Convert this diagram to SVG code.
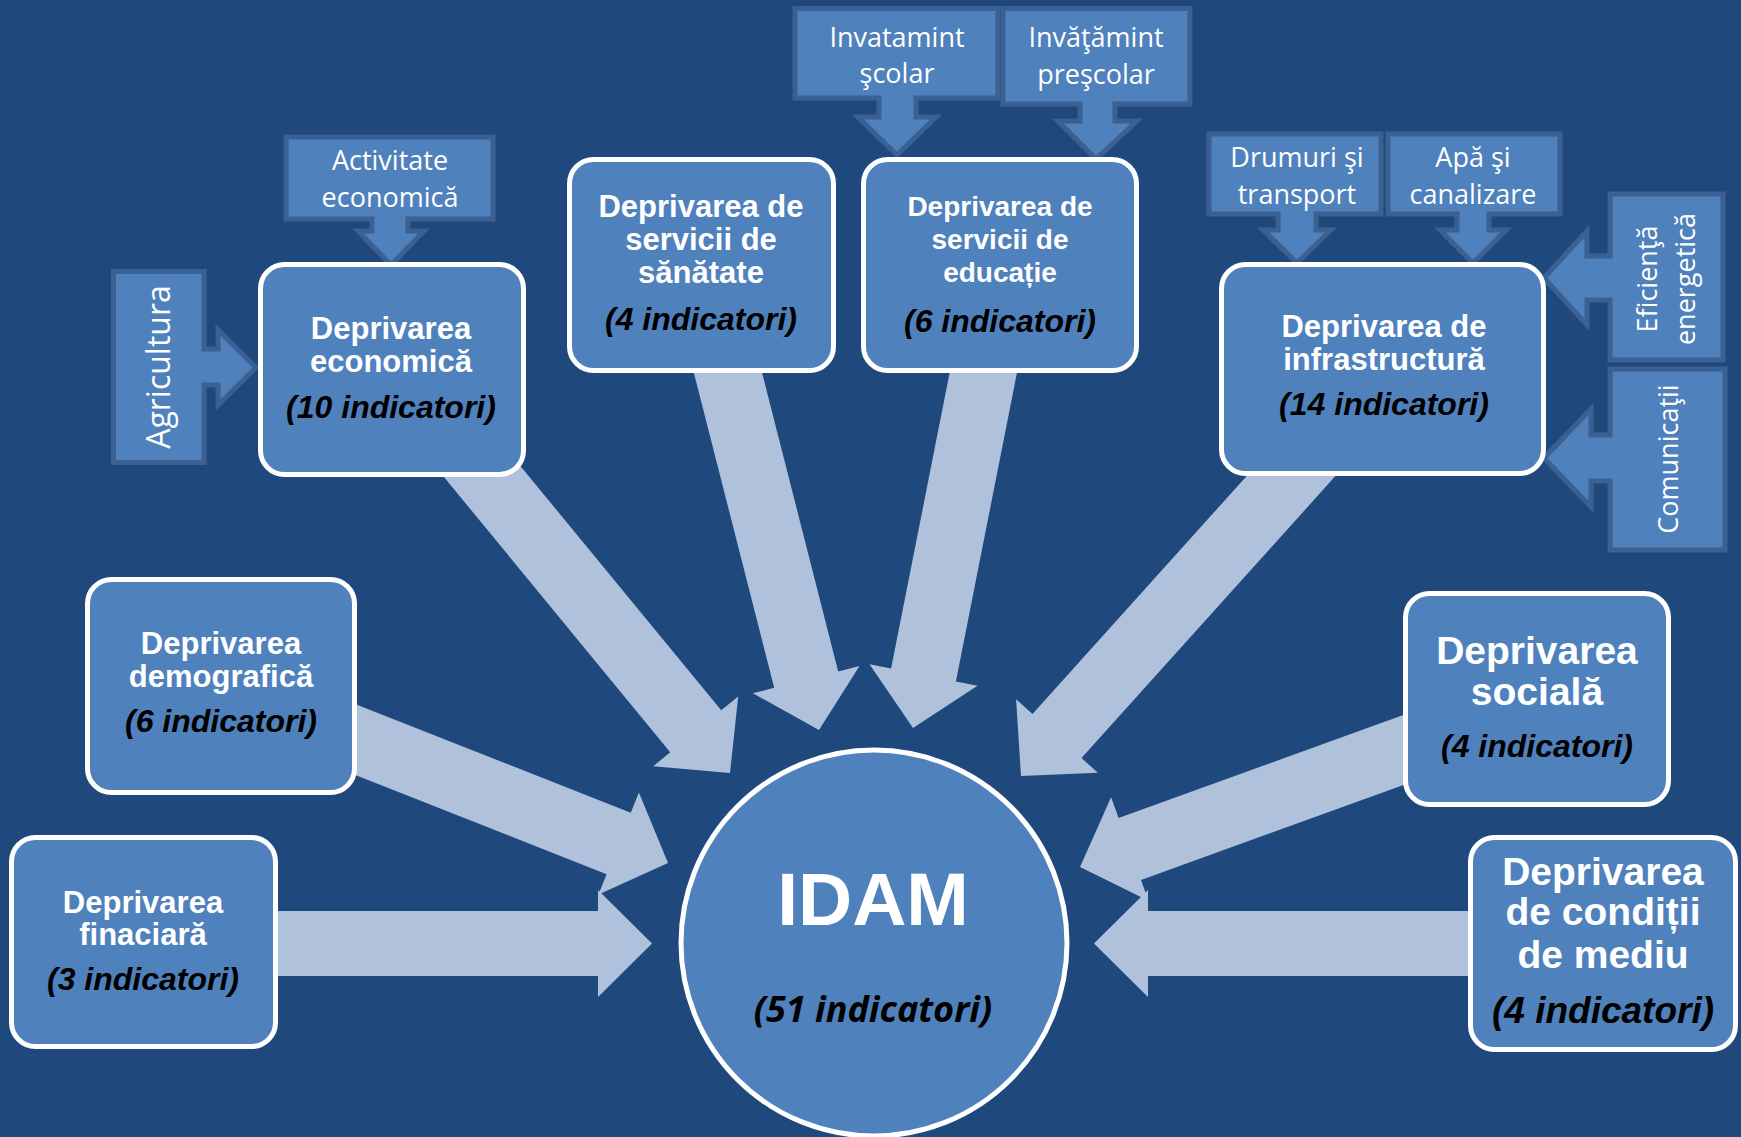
<svg xmlns="http://www.w3.org/2000/svg" width="1741" height="1137" viewBox="0 0 1741 1137">
<style>
.box{fill:#4F81BD;stroke:#FFFFFF;stroke-width:5}
.call{fill:#4F81BD;stroke:#3B6192;stroke-width:5;stroke-linejoin:miter}
.arr{fill:#B0C1DB}
.t{font-family:"Liberation Sans",Arial,sans-serif;font-weight:bold;fill:#FFFFFF;text-anchor:middle}
.i{font-family:"Liberation Sans",Arial,sans-serif;font-weight:bold;font-style:italic;fill:#000000;text-anchor:middle}
.c{font-family:"Open Sans","Noto Sans",sans-serif;fill:#FFFFFF;text-anchor:middle;font-size:27px}
</style>
<rect x="0" y="0" width="1741" height="1137" fill="#1F497D"/>

<g id="connectors">
  <polygon class="arr" points="481.8,419 721.2,710.3 738.2,696.4 730,773 653.2,766.2 670.2,752.3 430.8,461"/>
  <polygon class="arr" points="751.6,331.8 838.2,671.4 859.5,666 819,730 752.9,693.2 774.2,687.8 687.6,348.2"/>
  <polygon class="arr" points="1022.2,346.4 955.9,681.4 977.5,685.7 913,728 869.5,664.3 891.1,668.6 957.4,333.6"/>
  <polygon class="arr" points="1348,462.1 1081.5,758.1 1097.9,772.8 1021,776 1016.1,699.2 1032.5,713.9 1299,417.9"/>
  <polygon class="arr" points="332.1,694.9 630.8,812.8 638.9,792.4 668,863 598.5,894.6 606.6,874.2 307.9,756.3"/>
  <polygon class="arr" points="1451.2,767.8 1141,880 1148.5,900.7 1080,867 1111.1,797.3 1118.6,818 1428.8,705.8"/>
  <path class="arr" d="M250,911 H598 V890 L652,943.5 L598,997 V976 H250 Z"/>
  <path class="arr" d="M1500,911 H1148 V890 L1094,943.5 L1148,997 V976 H1500 Z"/>
</g>

<g id="callout-activitate">
  <path class="call" d="M286,137 H493 V219 H408 V231 H424 L391,265 L358,231 H372 V219 H286 Z"/>
  <text class="c" x="390" y="170">Activitate</text>
  <text class="c" x="390" y="207">economică</text>
</g>
<g id="callout-agricultura">
  <path class="call" d="M113.5,271.5 H204 V349 H218 V330 L256,367.5 L218,405 V385 H204 V462.5 H113.5 Z"/>
  <text class="c" style="font-size:32px" transform="translate(170,367) rotate(-90)" x="0" y="0">Agricultura</text>
</g>
<g id="callout-invatamint-scolar">
  <path class="call" d="M795,8.5 H998 V98 H916 V117 H936 L897,155 L858,117 H879 V98 H795 Z"/>
  <text class="c" x="897" y="47">Invatamint</text>
  <text class="c" x="897" y="83">şcolar</text>
</g>
<g id="callout-invatamint-prescolar">
  <path class="call" d="M1003,8.5 H1190 V104 H1115 V121 H1137 L1096,159 L1058,121 H1080 V104 H1003 Z"/>
  <text class="c" x="1096" y="47">Invăţămint</text>
  <text class="c" x="1096" y="84">preşcolar</text>
</g>
<g id="callout-drumuri">
  <path class="call" d="M1209,134 H1381 V214 H1316 V230 H1331 L1297,263 L1263,230 H1278 V214 H1209 Z"/>
  <text class="c" x="1297" y="167">Drumuri şi</text>
  <text class="c" x="1297" y="204">transport</text>
</g>
<g id="callout-apa">
  <path class="call" d="M1388,134 H1560 V214 H1489 V230 H1506 L1473,263 L1440,230 H1457 V214 H1388 Z"/>
  <text class="c" x="1473" y="167">Apă şi</text>
  <text class="c" x="1473" y="204">canalizare</text>
</g>
<g id="callout-eficienta">
  <path class="call" d="M1610,194 H1723 V360 H1610 V300 H1587 V325 L1544,278 L1587,231 V256 H1610 Z"/>
  <text class="c" transform="translate(1676,279) rotate(-90)" x="0" y="-19">Eficienţă</text>
  <text class="c" transform="translate(1676,279) rotate(-90)" x="0" y="19">energetică</text>
</g>
<g id="callout-comunicatii">
  <path class="call" d="M1610,369 H1725 V550 H1610 V481 H1591 V507 L1544,458 L1591,409 V435 H1610 Z"/>
  <text class="c" transform="translate(1678,459) rotate(-90)" x="0" y="0">Comunicaţii</text>
</g>

<g id="node-economica">
  <rect class="box" x="260.5" y="264.5" width="263" height="210" rx="24"/>
  <text class="t" x="391" y="339" font-size="31">Deprivarea</text>
  <text class="t" x="391" y="372" font-size="31">economică</text>
  <text class="i" x="391" y="418" font-size="32">(10 indicatori)</text>
</g>
<g id="node-sanatate">
  <rect class="box" x="569.5" y="159.5" width="264" height="211" rx="24"/>
  <text class="t" x="701" y="217" font-size="31">Deprivarea de</text>
  <text class="t" x="701" y="250" font-size="31">servicii de</text>
  <text class="t" x="701" y="283" font-size="31">sănătate</text>
  <text class="i" x="701" y="330" font-size="32">(4 indicatori)</text>
</g>
<g id="node-educatie">
  <rect class="box" x="863.5" y="159.5" width="273" height="211" rx="24"/>
  <text class="t" x="1000" y="216" font-size="28">Deprivarea de</text>
  <text class="t" x="1000" y="249" font-size="28">servicii de</text>
  <text class="t" x="1000" y="282" font-size="28">educație</text>
  <text class="i" x="1000" y="332" font-size="32">(6 indicatori)</text>
</g>
<g id="node-infrastructura">
  <rect class="box" x="1221.5" y="264.5" width="322" height="209" rx="24"/>
  <text class="t" x="1384" y="337" font-size="31">Deprivarea de</text>
  <text class="t" x="1384" y="370" font-size="31">infrastructură</text>
  <text class="i" x="1384" y="415" font-size="32">(14 indicatori)</text>
</g>
<g id="node-demografica">
  <rect class="box" x="87.5" y="579.5" width="267" height="213" rx="24"/>
  <text class="t" x="221" y="654" font-size="31">Deprivarea</text>
  <text class="t" x="221" y="687" font-size="31">demografică</text>
  <text class="i" x="221" y="732" font-size="32">(6 indicatori)</text>
</g>
<g id="node-financiara">
  <rect class="box" x="11.5" y="837.5" width="264" height="209" rx="24"/>
  <text class="t" x="143" y="913" font-size="31">Deprivarea</text>
  <text class="t" x="143" y="945" font-size="31">finaciară</text>
  <text class="i" x="143" y="990" font-size="32">(3 indicatori)</text>
</g>
<g id="node-sociala">
  <rect class="box" x="1405.5" y="593.5" width="263" height="211" rx="24"/>
  <text class="t" x="1537" y="664" font-size="39">Deprivarea</text>
  <text class="t" x="1537" y="705" font-size="39">socială</text>
  <text class="i" x="1537" y="757" font-size="32">(4 indicatori)</text>
</g>
<g id="node-mediu">
  <rect class="box" x="1470.5" y="837.5" width="265" height="212" rx="24"/>
  <text class="t" x="1603" y="885" font-size="39">Deprivarea</text>
  <text class="t" x="1603" y="925" font-size="39">de condiții</text>
  <text class="t" x="1603" y="968" font-size="39">de mediu</text>
  <text class="i" x="1603" y="1023" font-size="37">(4 indicatori)</text>
</g>
<g id="node-idam">
  <circle cx="874" cy="943" r="193" fill="#4F81BD" stroke="#FFFFFF" stroke-width="5"/>
  <text class="t" x="873" y="925" font-size="75">IDAM</text>
  <text x="873" y="1022" font-family="'Open Sans','Noto Sans',sans-serif" font-weight="bold" font-style="italic" font-size="36" fill="#000000" text-anchor="middle">(51 indicatori)</text>
</g>
</svg>
